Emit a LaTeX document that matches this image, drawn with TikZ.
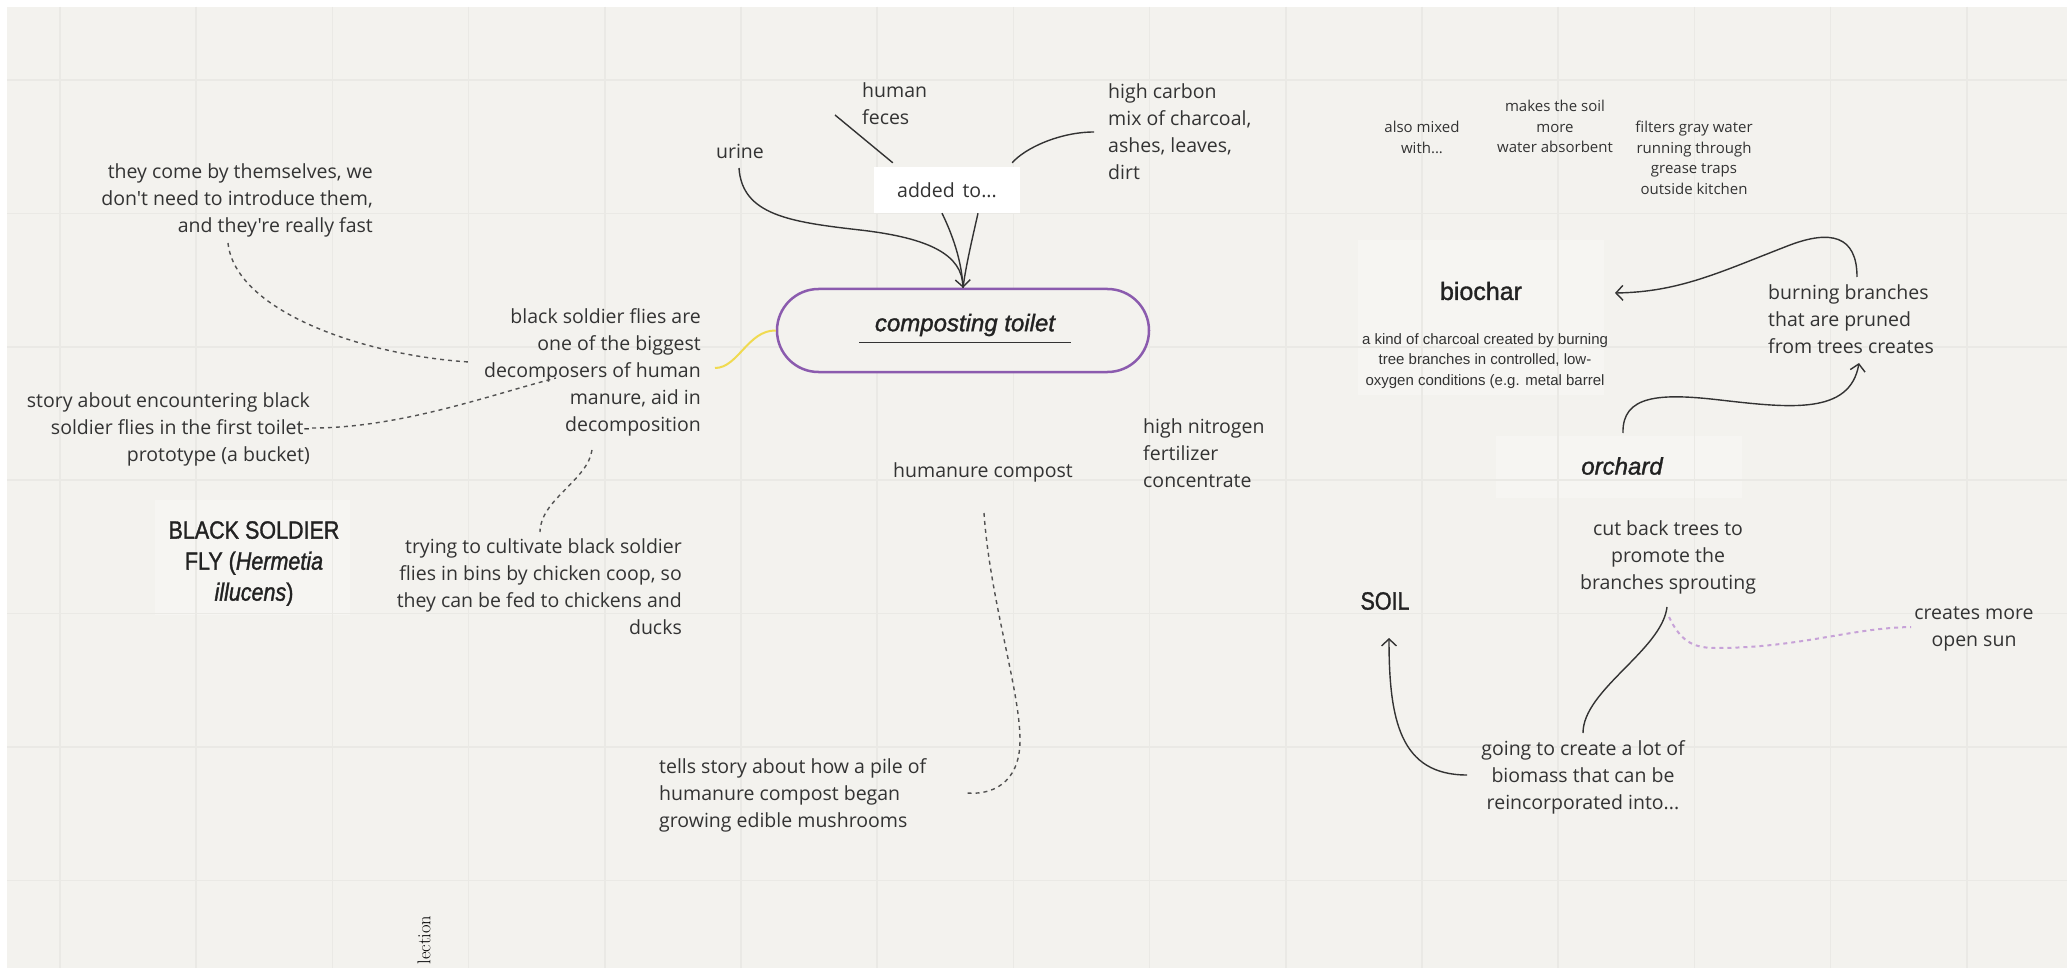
\documentclass[tikz,border=0pt]{standalone}
\usepackage{fontspec}
\newfontfamily\os{Open Sans}
\newfontfamily\titlefont[FakeBold=1.3]{Liberation Sans}
\newfontfamily\capsfont[FakeStretch=0.86,FakeBold=1.3]{Liberation Sans}
\newfontfamily\descfont{Liberation Sans}
\usetikzlibrary{arrows.meta,calc}
\definecolor{bg}{HTML}{F3F2EE}
\definecolor{gridc}{HTML}{EAE9E5}
\definecolor{ink}{HTML}{333333}
\definecolor{dark}{HTML}{222222}
\definecolor{pillc}{HTML}{8B5BAE}
\definecolor{yel}{HTML}{F0DA50}
\definecolor{lilac}{HTML}{C7A2D8}
\definecolor{paper}{HTML}{F6F5F2}
\begin{document}
\begin{tikzpicture}[x=1pt,y=-1pt,
  txt/.style={inner sep=0pt,text=ink,font=\os\fontsize{19.5}{27}\selectfont},
  smalltxt/.style={inner sep=0pt,text=ink,align=center,font=\os\fontsize{15}{20.5}\selectfont},
  conn/.style={draw=ink,line width=1.4pt},
  dashconn/.style={draw=ink!85,line width=1.4pt,dash pattern=on 4pt off 4pt},
  tip/.style={-{Straight Barb[length=7pt,width=15pt,line width=1.4pt]}},
]
\useasboundingbox (0,0) rectangle (2067,968);
\fill[white] (0,0) rectangle (2067,968);
\fill[bg] (7,7) rectangle (2067,968);
% faint paper blocks
\fill[paper] (1358,240) rectangle (1604,395);
\fill[paper] (1496,436) rectangle (1742,498);
\fill[paper] (155,500) rectangle (350,615);
% grid
\foreach \i in {0,...,14} \draw[gridc,line width=1.5pt] ({60+136.2*\i},7) -- ({60+136.2*\i},968);
\foreach \j in {0,...,6} \draw[gridc,line width=1.5pt] (7,{80+133.4*\j}) -- (2067,{80+133.4*\j});

% nodes
\node[txt,align=right,anchor=north east] (come) at (373,163.5) {they come by themselves, we\\don't need to introduce them,\\and they're really fast};
\node[txt,align=right,anchor=north east] (bsfdesc) at (701,308.5) {black soldier flies are\\one of the biggest\\decomposers of human\\manure, aid in\\decomposition};
\node[txt,align=right,anchor=north east] (story) at (310,392.5) {story about encountering black\\soldier flies in the first toilet-\\prototype (a bucket)};
\node[txt,align=right,anchor=north east] (trying) at (682,538.5) {trying to cultivate black soldier\\flies in bins by chicken coop, so\\they can be fed to chickens and\\ducks};
\node[txt,align=left,anchor=north west] (feces) at (862,82.5) {human\\feces};
\node[txt] (urine) at (740,151) {urine};
\node[txt,align=left,anchor=north west] (carbon) at (1108,83.5) {high carbon\\mix of charcoal,\\ashes, leaves,\\dirt};
\node[fill=white,minimum width=146pt,minimum height=46pt,inner sep=0pt,text=ink,font=\os\fontsize{19.5}{27}\selectfont] (added) at (947,190) {added\hspace{0.4em}to...};
\node[draw=pillc,line width=2.5pt,fill=bg,rounded corners=41.5pt,minimum width=372pt,minimum height=83pt] (pill) at (963,330.5) {};
\node[inner sep=0pt,text=dark,font=\titlefont\itshape\fontsize{24}{28}\selectfont] (ctext) at (965,325) {composting toilet};
\draw[ink,line width=1.4pt] ($(ctext.south)+(-106,6)$) -- ($(ctext.south)+(106,6)$);
\node[txt,align=left,anchor=north west] (nitro) at (1143,418.5) {high nitrogen\\fertilizer\\concentrate};
\node[txt] (humanure) at (983,472) {humanure compost};
\node[txt,align=left,anchor=north west] (tells) at (659,758.5) {tells story about how a pile of\\humanure compost began\\growing edible mushrooms};
\node[inner sep=0pt,text=dark,align=center,anchor=north,font=\capsfont\fontsize{25}{31}\selectfont] (bsf) at (254,521) {BLACK SOLDIER\\FLY (\textit{Hermetia}\\\textit{illucens})};

\node[smalltxt,anchor=north] (mixed) at (1422,121) {also mixed\\with...};
\node[smalltxt,anchor=north] (absorb) at (1555,100) {makes the soil\\more\\water absorbent};
\node[smalltxt,anchor=north] (filters) at (1694,121) {filters gray water\\running through\\grease traps\\outside kitchen};
\node[inner sep=0pt,text=dark,font=\titlefont\fontsize{25}{30}\selectfont] (biochar) at (1481,291) {biochar};
\node[inner sep=0pt,text=ink,align=center,anchor=north,font=\descfont\fontsize{15}{20.5}\selectfont] (bdesc) at (1485,333) {a kind of charcoal created by burning\\tree branches in controlled, low-\\oxygen conditions (e.g. metal barrel};
\node[txt,align=left,anchor=north west] (burning) at (1768,284.5) {burning branches\\that are pruned\\from trees creates};
\node[inner sep=0pt,text=dark,font=\titlefont\itshape\fontsize{24}{28}\selectfont] (orchard) at (1622,466) {orchard};
\node[txt,align=center,anchor=north] (cut) at (1668,520.5) {cut back trees to\\promote the\\branches sprouting};
\node[inner sep=0pt,text=dark,font=\capsfont\fontsize{25}{30}\selectfont] (soil) at (1385,601) {SOIL};
\node[txt,align=center,anchor=north] (biomass) at (1583,740.5) {going to create a lot of\\biomass that can be\\reincorporated into...};
\node[txt,align=center,anchor=north] (opensun) at (1974,606.5) {creates more\\open sun};
\node[rotate=90,inner sep=0pt,text=black,font=\fontsize{18.5}{20}\selectfont] (lection) at (424,940) {lection};

% connector end points
\coordinate (comeO) at (228,243);
\coordinate (bsfI1) at (469,362);
\coordinate (storyO) at (312,428);
\coordinate (bsfI2) at (556,378);
\coordinate (bsfO) at (592,450);
\coordinate (tryI) at (540,532);
\coordinate (bsfY) at (715,368);
\coordinate (fecesO) at (835,115);
\coordinate (carbonO) at (1094,132);
\coordinate (urineO) at (739,168);
\coordinate (burnO) at (1857,277);
\coordinate (bioI) at (1615,293);
\coordinate (orchO) at (1623,433);
\coordinate (burnI) at (1859,363);
\coordinate (bioM1) at (1583,733);
\coordinate (cutO) at (1667,607);
\coordinate (bioM2) at (1467,775);
\coordinate (soilI) at (1389,638);
\coordinate (cutO2) at (1669,617);
\coordinate (sunI) at (1911,627);
\coordinate (compO) at (984,513);
\coordinate (tellsI) at (967,793);

% connectors
\draw[dashconn] (comeO) .. controls (235,310) and (360,355) .. (bsfI1);
\draw[dashconn] (storyO) .. controls (400,428) and (490,395) .. (bsfI2);
\draw[dashconn] (bsfO) .. controls (588,480) and (540,500) .. (tryI);
\draw[yel,line width=2pt] (bsfY) .. controls (738,368) and (748,330) .. (pill.west);
\draw[conn] (fecesO) -- ($(added.north west)+(19,-4)$);
\draw[conn] (carbonO) .. controls (1060,132) and (1025,148) .. ($(added.north east)+(-8,-4)$);
\draw[conn] ($(added.south)+(-5,0)$) .. controls (955,240) and (962,265) .. (pill.north);
\draw[conn] ($(added.south)+(31,0)$) .. controls (972,240) and (966,265) .. (pill.north);
\draw[conn,tip] (urineO) .. controls (742,215) and (790,222) .. (860,230) .. controls (930,238) and (962,255) .. (pill.north);
\draw[conn,tip] (burnO) .. controls (1857,235) and (1830,230) .. (1790,245) .. controls (1720,272) and (1680,292) .. (bioI);
\draw[conn,tip] (orchO) .. controls (1622,395) and (1660,393) .. (1720,400) .. controls (1790,408) and (1850,415) .. (burnI);
\draw[conn] (bioM1) .. controls (1583,690) and (1662,650) .. (cutO);
\draw[conn,tip] (bioM2) .. controls (1400,775) and (1389,720) .. (soilI);
\draw[lilac,line width=2pt,dash pattern=on 4pt off 4pt] (cutO2) .. controls (1680,640) and (1692,648) .. (1715,648) .. controls (1800,648) and (1850,628) .. (sunI);
\draw[dashconn] (compO) .. controls (990,600) and (1020,690) .. (1020,740) .. controls (1020,785) and (990,795) .. (tellsI);
\end{tikzpicture}
\end{document}
